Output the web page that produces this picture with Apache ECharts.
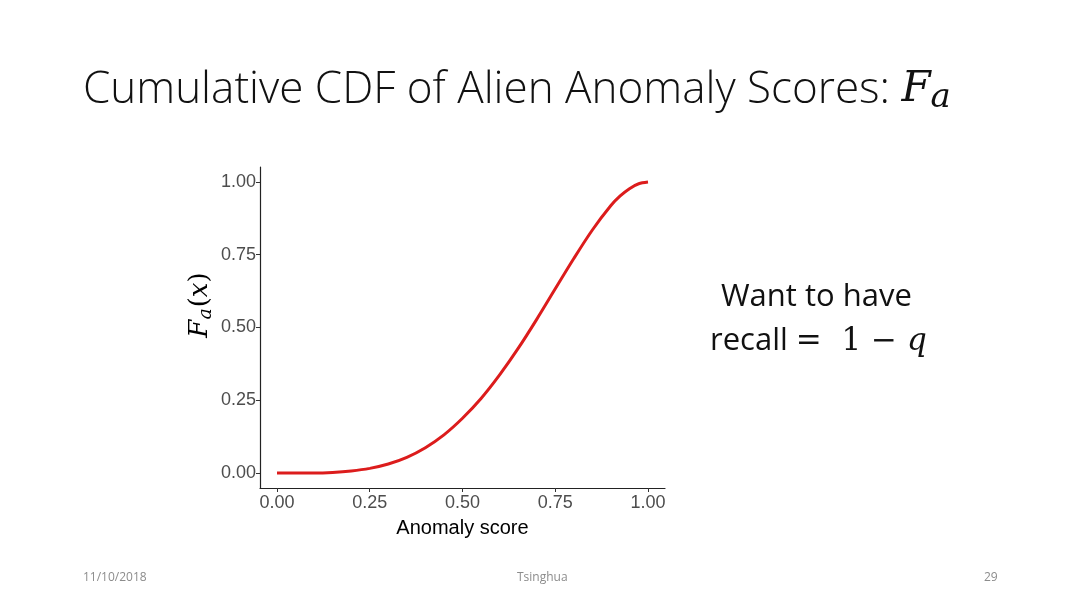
<!DOCTYPE html>
<html>
<head>
<meta charset="utf-8">
<script src="https://cdn.jsdelivr.net/npm/echarts@6/dist/echarts.min.js"></script>
<style>
html, body { margin: 0; padding: 0; background: #fff; }
#chart { width: 1080px; height: 607px; }
</style>
</head>
<body>
<div id="chart"></div>
<script>
// anomaly score (x) and cumulative F_a(x)
const scores = [0, 0.05, 0.10, 0.15, 0.20, 0.25, 0.30, 0.35, 0.40, 0.45, 0.50,
  0.55, 0.60, 0.65, 0.70, 0.75, 0.80, 0.85, 0.90, 0.925, 0.95, 0.975, 1.00]
const cdf = [0, 0.000, 0.000, 0.002, 0.007, 0.016, 0.031, 0.054, 0.087, 0.131, 0.188,
  0.256, 0.337, 0.428, 0.528, 0.633, 0.737, 0.835, 0.919, 0.952, 0.977, 0.994, 1.000]
const tickValues = [0, 0.25, 0.5, 0.75, 1]

const axisFont = '"Liberation Sans", Arial, sans-serif'
const slideFont = '"Open Sans", "Noto Sans", sans-serif'
const mathFont = '"DejaVu Serif", "Liberation Serif", serif'

const chart = echarts.init(document.getElementById('chart'))

const option = {
  backgroundColor: '#fff',
  animation: false,
  grid: { left: 260, top: 167, width: 405, height: 321, containLabel: false },
  xAxis: {
    type: 'value',
    min: -0.0458,
    max: 1.0458,
    name: 'Anomaly score',
    nameLocation: 'middle',
    nameGap: 30,
    nameTextStyle: { fontFamily: axisFont, fontSize: 20, color: '#000' },
    axisLine: { onZero: false, lineStyle: { color: '#222', width: 1.2 } },
    axisTick: { show: true, length: 4, customValues: tickValues, lineStyle: { color: '#333' } },
    axisLabel: {
      customValues: tickValues,
      margin: 6,
      fontFamily: axisFont,
      fontSize: 18,
      color: '#4d4d4d',
      formatter: v => v.toFixed(2)
    },
    splitLine: { show: false }
  },
  yAxis: {
    type: 'value',
    min: -0.0515,
    max: 1.0515,
    axisLine: { show: true, onZero: false, lineStyle: { color: '#222', width: 1.2 } },
    axisTick: { show: true, length: 4, customValues: tickValues, lineStyle: { color: '#333' } },
    axisLabel: {
      customValues: tickValues,
      margin: 4,
      fontFamily: axisFont,
      fontSize: 18,
      color: '#4d4d4d',
      formatter: v => v.toFixed(2)
    },
    splitLine: { show: false }
  },
  series: [
    {
      type: 'line',
      data: scores.map((s, i) => [s, cdf[i]]),
      smooth: 0.3,
      showSymbol: false,
      lineStyle: { color: '#dc1c1c', width: 3 }
    }
  ],
  graphic: [
    {
      type: 'text',
      left: 83,
      top: 68,
      style: {
        text: 'Cumulative CDF of Alien Anomaly Scores: {f|F}{s|a}',
        font: '300 44px ' + slideFont,
        fill: '#111',
        rich: {
          f: { fontFamily: mathFont, fontStyle: 'italic', fontSize: 42, fill: '#111' },
          s: { fontFamily: mathFont, fontStyle: 'italic', fontSize: 34, fill: '#111', padding: [16, 0, 0, 0] }
        }
      }
    },
    {
      // y axis title, rotated
      type: 'text',
      x: 200,
      y: 305,
      rotation: Math.PI / 2,
      style: {
        text: '{f|F}{s|a}{p|(}{x|x}{p|)}',
        align: 'center',
        verticalAlign: 'middle',
        fill: '#000',
        rich: {
          f: { fontFamily: mathFont, fontStyle: 'italic', fontSize: 26, fill: '#000' },
          s: { fontFamily: mathFont, fontStyle: 'italic', fontSize: 19, fill: '#000', padding: [12, 1, 0, 0] },
          p: { fontFamily: mathFont, fontSize: 26, fill: '#000' },
          x: { fontFamily: mathFont, fontStyle: 'italic', fontSize: 26, fill: '#000' }
        }
      }
    },
    {
      type: 'text',
      left: 721,
      top: 282,
      style: { text: 'Want to have', font: '31px ' + slideFont, fill: '#111' }
    },
    {
      type: 'text',
      left: 710,
      top: 326,
      style: {
        text: 'recall {m|=  1 − }{q|q}',
        font: '31px ' + slideFont,
        fill: '#111',
        rich: {
          m: { fontFamily: mathFont, fontSize: 31, fill: '#111' },
          q: { fontFamily: mathFont, fontStyle: 'italic', fontSize: 31, fill: '#111' }
        }
      }
    },
    {
      type: 'text', left: 83, top: 572,
      style: { text: '11/10/2018', font: '12px ' + slideFont, fill: '#8c8c8c' }
    },
    {
      type: 'text', left: 517, top: 572,
      style: { text: 'Tsinghua', font: '12px ' + slideFont, fill: '#8c8c8c' }
    },
    {
      type: 'text', left: 984, top: 572,
      style: { text: '29', font: '12px ' + slideFont, fill: '#8c8c8c' }
    }
  ]
}

chart.setOption(option)
</script>
</body>
</html>
